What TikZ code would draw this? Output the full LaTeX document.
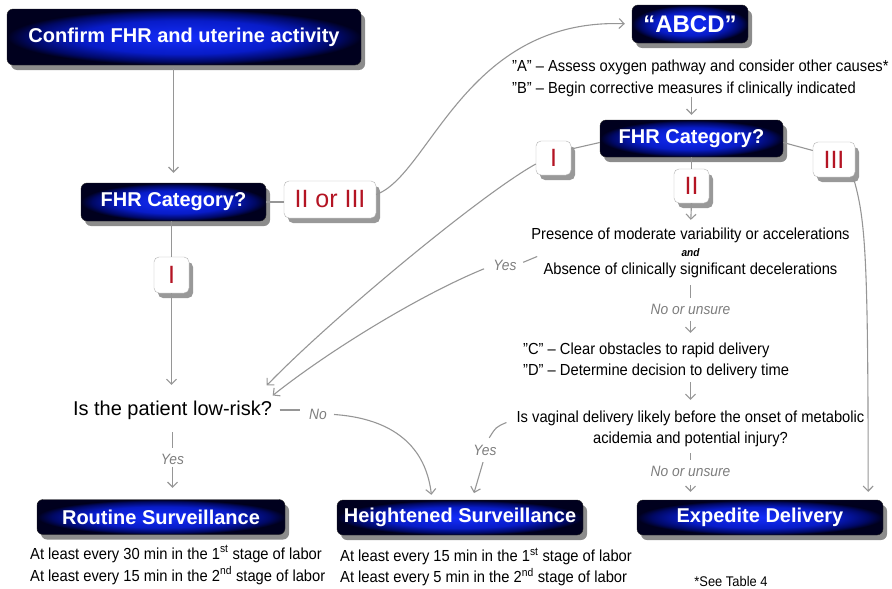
\documentclass[tikz,border=0pt]{standalone}
\usepackage{fontspec}
\setmainfont{Liberation Sans}
\newfontfamily\narrowfont[FakeStretch=0.92]{Liberation Sans}
\usepackage{tikz}
\usetikzlibrary{arrows.meta,shadows}

\definecolor{glowin}{RGB}{20,45,250}
\definecolor{glowmid}{RGB}{8,28,200}
\definecolor{glowedge}{RGB}{0,8,100}
\definecolor{glowout}{RGB}{0,0,30}
\definecolor{catred}{RGB}{180,20,35}
\definecolor{linegray}{RGB}{150,150,150}
\definecolor{answergray}{RGB}{125,125,125}
\pgfdeclareradialshading{boxglow}{\pgfpoint{0bp}{0bp}}{color(0bp)=(glowin); color(15bp)=(glowmid); color(22bp)=(glowedge); color(25bp)=(glowout); color(50bp)=(glowout)}

\tikzset{
  flowbox/.style={ % dark blue boxes
    draw=black!85, rounded corners=6pt, shading=boxglow, text=white, inner sep=2pt,
    font=\bfseries\fontsize{20}{24}\selectfont,
    drop shadow={shadow xshift=4pt, shadow yshift=-5pt, fill=black!45, opacity=1}},
  catbox/.style={ % category tags
    draw=black!30, fill=white, rounded corners=5pt, text=catred, inner sep=1pt,
    font=\fontsize{25}{28}\selectfont,
    drop shadow={shadow xshift=4pt, shadow yshift=-5pt, fill=black!40, opacity=1}},
  bodytext/.style={font=\narrowfont\fontsize{16}{22}\selectfont, inner sep=0pt},
  answer/.style={font=\narrowfont\itshape\fontsize{15}{18}\selectfont, text=answergray, inner sep=0pt},
  link/.style={draw=linegray, line width=1.1pt},
  flow/.style={link, -{Straight Barb[length=5pt,width=10pt]}}}

\begin{document}
\begin{tikzpicture}[x=1pt,y=-1pt]
  \useasboundingbox (0,0) rectangle (892,589);
  \clip (0,0) rectangle (892,589);

  % left branch
  \node[flowbox, minimum width=354pt, minimum height=56pt] (confirm) at (184,37) {Confirm FHR and uterine activity};
  \node[flowbox, minimum width=185pt, minimum height=38pt] (cat1) at (173.5,202) {FHR Category?};
  \node[catbox, minimum width=92pt, minimum height=37pt] (c23) at (330,199.5) {II or III};
  \node[catbox, minimum width=35pt, minimum height=36pt] (c1) at (171.5,275) {I};
  \node[inner sep=0pt, font=\fontsize{20}{24}\selectfont] (lowrisk) at (172.5,410) {Is the patient low-risk?};
  \node[answer] (yesA) at (172.5,459) {Yes};
  \node[answer] (noA) at (318,414) {No};

  % right branch
  \node[flowbox, font=\bfseries\fontsize{24}{28}\selectfont, minimum width=116pt, minimum height=38pt] (abcd) at (690,24) {“ABCD”};
  \node[bodytext, align=left, anchor=west] (abtext) at (512,78) {”A” – Assess oxygen pathway and consider other causes*\\”B” – Begin corrective measures if clinically indicated};
  \node[flowbox, minimum width=183pt, minimum height=37pt] (cat2) at (691.5,138.5) {FHR Category?};
  \node[catbox, minimum width=35pt, minimum height=34pt] (cI) at (553.5,158) {I};
  \node[catbox, minimum width=35pt, minimum height=34pt] (cII) at (691.5,186) {II};
  \node[catbox, minimum width=42pt, minimum height=35pt] (cIII) at (834,159.5) {III};
  \node[bodytext, align=center, font=\narrowfont\fontsize{16}{17.5}\selectfont] (crit) at (690.5,252.5)
    {Presence of moderate variability or accelerations\\{\bfseries\itshape\fontsize{11}{12}\selectfont and}\\Absence of clinically significant decelerations};
  \node[answer] (yesB) at (505,265) {Yes};
  \node[answer] (noB) at (690.5,309) {No or unsure};
  \node[bodytext, align=left, anchor=west, font=\narrowfont\fontsize{16}{21}\selectfont] (cd) at (523,360.5) {”C” – Clear obstacles to rapid delivery\\”D” – Determine decision to delivery time};
  \node[bodytext, align=center, font=\narrowfont\fontsize{16}{21}\selectfont] (vaginal) at (690.5,428.5) {Is vaginal delivery likely before the onset of metabolic\\acidemia and potential injury?};
  \node[answer] (noC) at (690.5,471) {No or unsure};
  \node[answer] (yesC) at (485,450) {Yes};

  % outcomes
  \node[flowbox, minimum width=248pt, minimum height=35pt] (routine) at (161,517) {Routine Surveillance};
  \node[flowbox, minimum width=246pt, minimum height=35pt] (heighten) at (460,517.5) {Heightened Surveillance};
  \node[flowbox, minimum width=246pt, minimum height=35pt] (expedite) at (760,517.5) {Expedite Delivery};
  \node[bodytext, align=left, anchor=west] (rtext) at (30,565) {At least every 30 min in the 1\textsuperscript{st} stage of labor\\At least every 15 min in the 2\textsuperscript{nd} stage of labor};
  \node[bodytext, align=left, anchor=west, font=\narrowfont\fontsize{16}{21}\selectfont] (htext) at (340,567) {At least every 15 min in the 1\textsuperscript{st} stage of labor\\At least every 5 min in the 2\textsuperscript{nd} stage of labor};
  \node[bodytext, anchor=base, font=\narrowfont\fontsize{14}{16}\selectfont] (seenote) at (731,586) {*See Table 4};

  % connectors, left
  \draw[flow, shorten <=4pt, shorten >=10pt] (cat1.north |- confirm.south) -- (cat1.north);
  \draw[link] (cat1.east) -- (c23.west |- cat1.east);
  \draw[flow, shorten >=7pt] ([yshift=5pt]c23.east) .. controls (430,175) and (465,18) .. (abcd.west);
  \draw[link] (c1.north |- cat1.south) -- (c1.north);
  \draw[flow, shorten >=15.5pt] (c1.south) -- (c1.south |- lowrisk.north);
  \draw[link, shorten <=12.5pt, shorten >=5.5pt] (lowrisk.south) -- (yesA.north);
  \draw[flow, shorten <=2.5pt, shorten >=11.5pt] (yesA.south) -- (yesA.south |- routine.north);
  \draw[link, shorten <=7.5pt, shorten >=8.5pt] (lowrisk.east) -- (noA.west |- lowrisk.east);
  \draw[flow, shorten <=7pt, shorten >=5pt] (noA.east) .. controls (385,418) and (425,440) .. ([xshift=-28pt]heighten.north);

  % connectors, right
  \draw[flow, shorten >=5pt] (abtext.south -| cat2) -- (cat2.north);
  \draw[link] ([yshift=-4pt]cat2.west) -- ([yshift=9pt]cI.east);
  \draw[link] ([yshift=-4pt]cat2.east) -- ([yshift=9pt]cIII.west);
  \draw[link] (cat2.south) -- (cII.north);
  \draw[flow, shorten >=7.5pt] (cII.south) -- (crit.north);
  \draw[flow] ([yshift=-6pt]cI.west) .. controls (480,195) and (330,320) .. ([xshift=-5.5pt,yshift=15pt]lowrisk.north east);
  \draw[link, shorten <=7pt] (yesB.east) -- ([xshift=6pt,yshift=-4pt]crit.west);
  \draw[flow, shorten <=10pt] (yesB.west) .. controls (420,295) and (330,350) .. ([xshift=0.5pt,yshift=5pt]lowrisk.north east);
  \draw[link, shorten <=7.5pt, shorten >=5.5pt] (crit.south) -- (noB.north);
  \draw[flow, shorten <=6.5pt, shorten >=9.5pt] (noB.south) -- (noB.south |- cd.north);
  \draw[flow, shorten <=3.5pt, shorten >=10.5pt] (noB |- cd.south) -- (noB |- vaginal.north);
  \draw[link, shorten <=6.5pt, shorten >=5.5pt] (vaginal.south) -- (noC.north);
  \draw[flow, shorten <=8.5pt, shorten >=8pt] (noC.south) -- (noC.south |- expedite.north);
  \draw[link, shorten >=8pt] ([xshift=-10pt,yshift=6pt]vaginal.west) .. controls (496,427) .. (yesC.north);
  \draw[flow, shorten <=7pt, shorten >=7pt] (yesC.south) -- ([xshift=12pt]heighten.north);
  \draw[flow, shorten >=8pt] ([xshift=-2pt]cIII.south east) .. controls (866,220) and (868,260) .. ([xshift=-15pt]expedite.north east);
\end{tikzpicture}
\end{document}
